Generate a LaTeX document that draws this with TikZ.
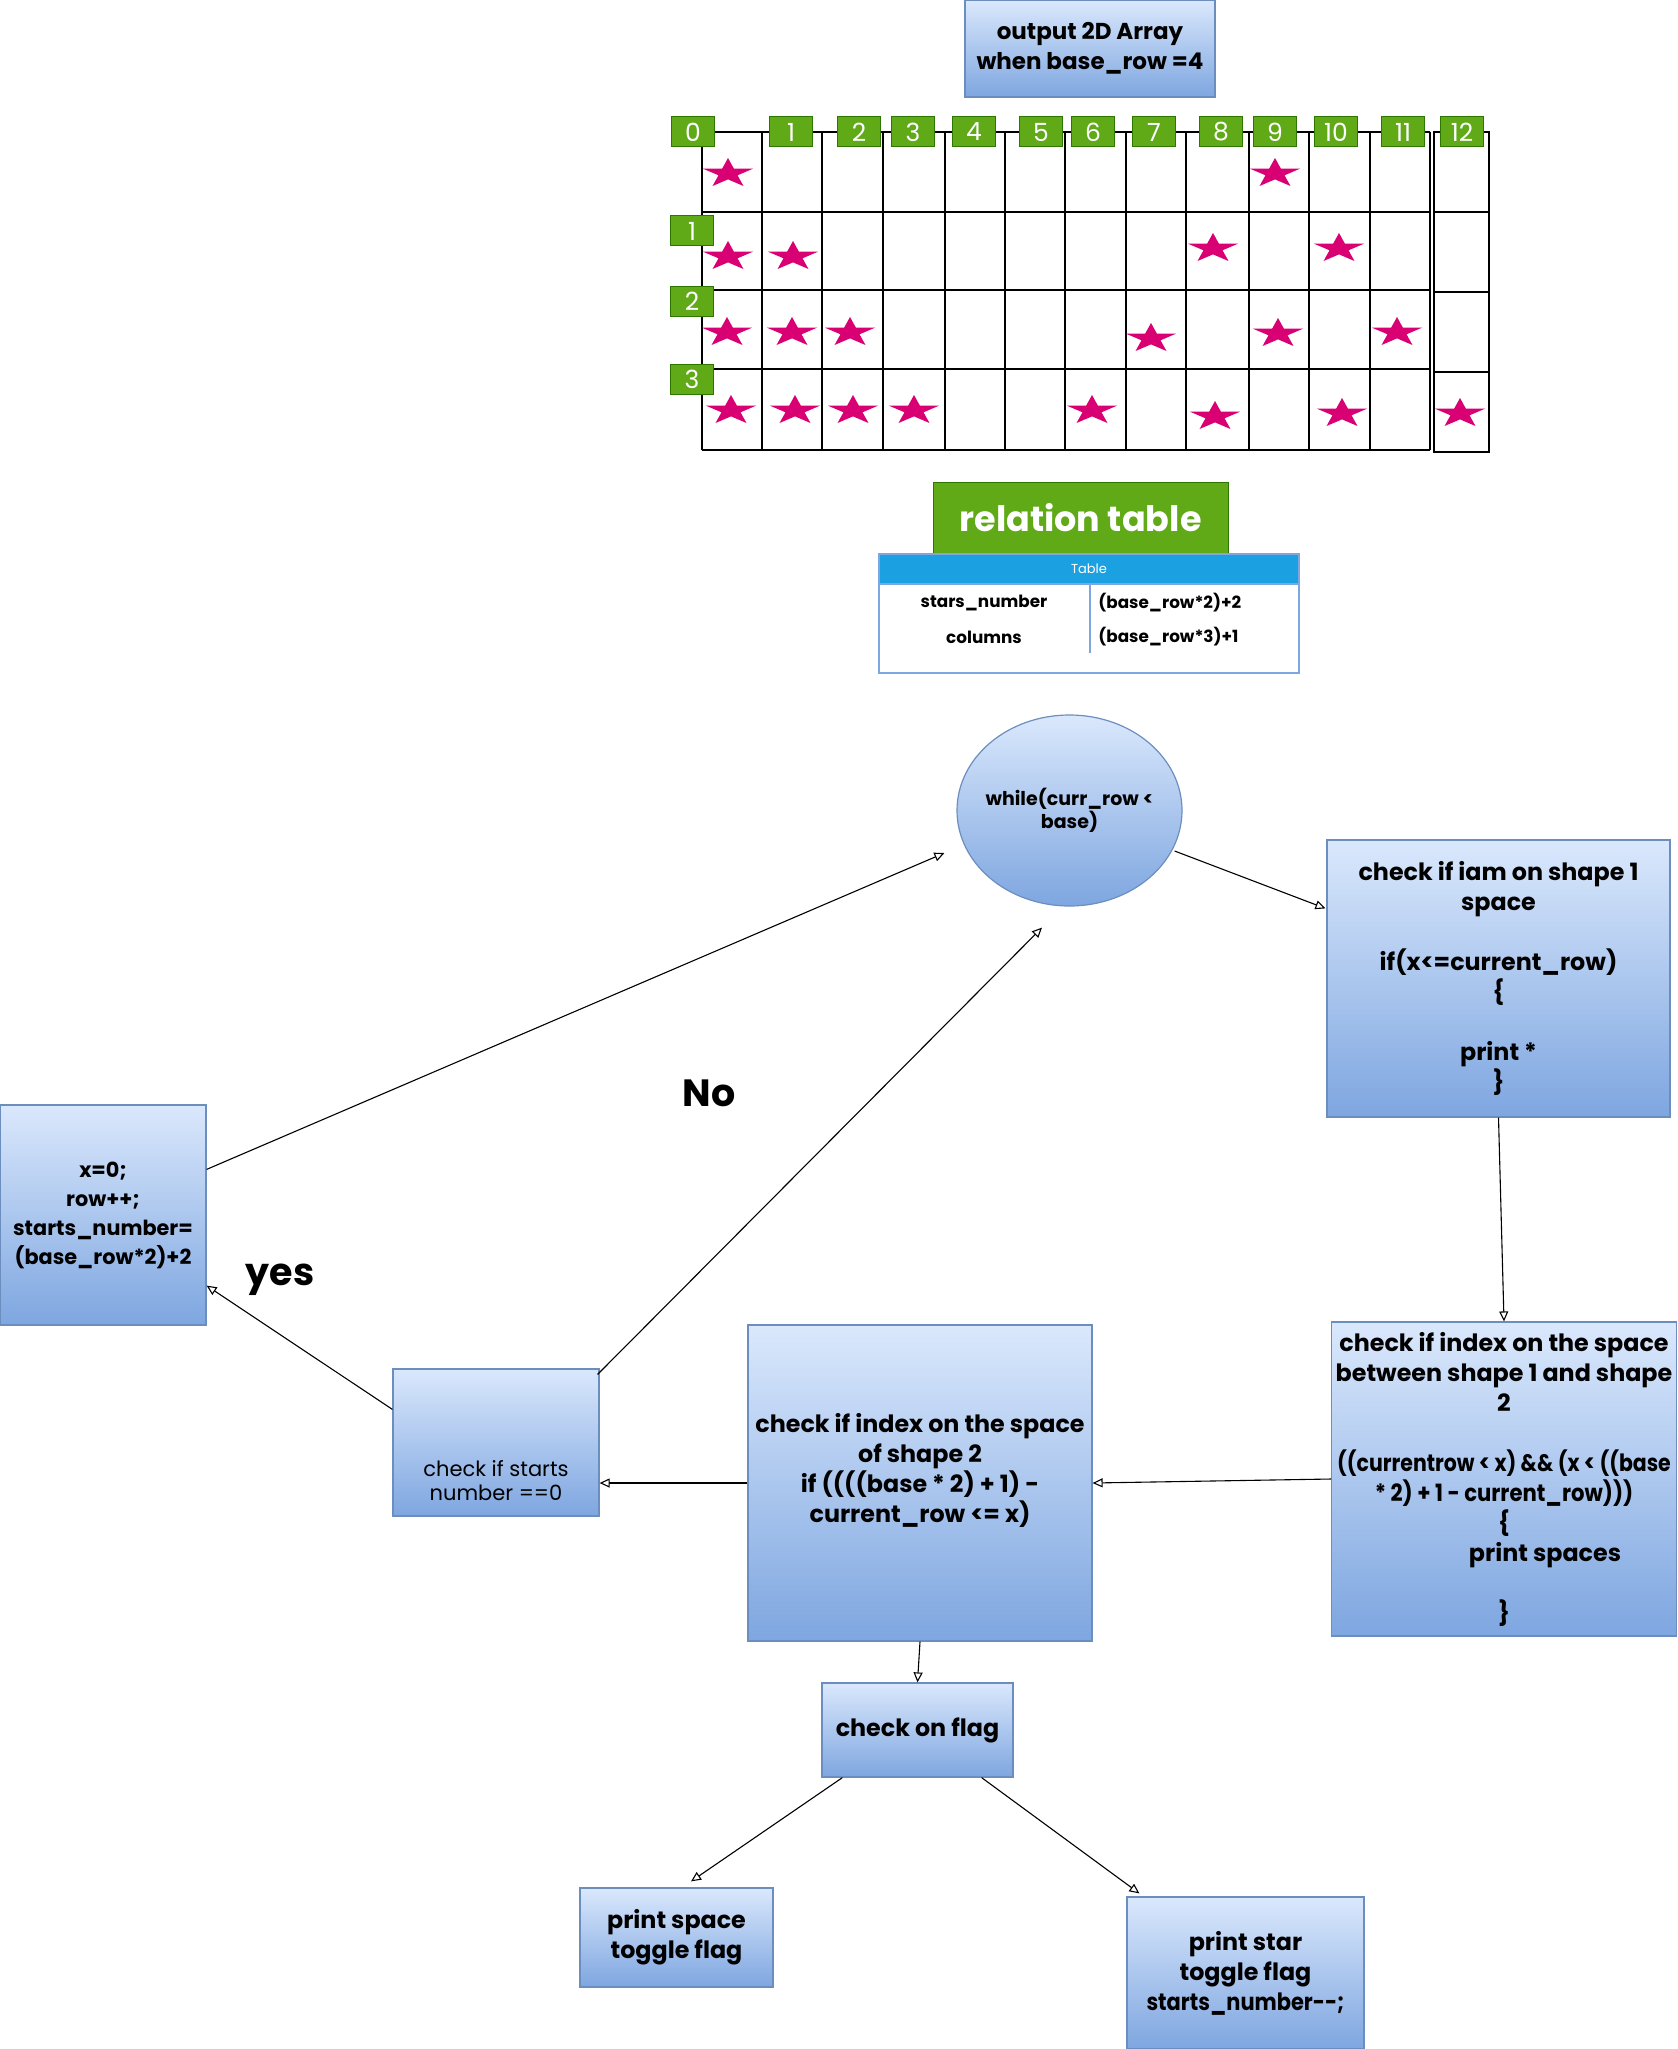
\documentclass[tikz,border=0pt]{standalone}
\usepackage{fontspec}
\usepackage{graphicx}
\setmainfont{Poppins}
\usetikzlibrary{arrows.meta,shapes.geometric,calc}
\definecolor{bxtop}{HTML}{DAE8FC}
\definecolor{bxbot}{HTML}{7EA6E0}
\definecolor{bxline}{HTML}{6C8EBF}
\definecolor{grn}{HTML}{60A917}
\definecolor{grnline}{HTML}{2D7600}
\definecolor{magst}{HTML}{D80073}
\definecolor{tblhead}{HTML}{1BA1E2}
\definecolor{tblline}{HTML}{7EA6E0}
\tikzset{
  bluebox/.style={draw=bxline, line width=0.6pt, top color=bxtop, bottom color=bxbot, inner sep=2pt, align=center, text=black},
  greenbox/.style={draw=grnline, fill=grn, line width=0.5pt, text=white, inner sep=0pt},
  gridl/.style={draw=black, line width=0.75pt},
  flow/.style={draw=black, line width=0.55pt, -{Triangle[open,length=5pt,width=4.5pt]}},
  ftitle/.style={font=\fontsize{11.5}{15}\selectfont\bfseries},
  fhdr/.style={font=\fontsize{12.5}{14}\selectfont},
  frel/.style={font=\fontsize{17.5}{20}\selectfont\bfseries},
  fthead/.style={font=\fontsize{6.5}{8}\selectfont},
  fcell/.style={font=\fontsize{8.4}{10}\selectfont\bfseries},
  fell/.style={font=\fontsize{9.5}{11.5}\selectfont\bfseries},
  fbox/.style={font=\fontsize{11.9}{15}\selectfont\bfseries},
  fE/.style={font=\fontsize{10.4}{14.5}\selectfont\bfseries},
  fD/.style={font=\fontsize{10.5}{12}\selectfont},
  fbig/.style={font=\fontsize{19}{22}\selectfont\bfseries},
  magstar/.pic={\fill[magst] (0,-14) -- (5.9,-3.3) -- (25,-3.3) -- (9.54,3.3) -- (15.46,14) -- (0,7.39) -- (-15.46,14) -- (-9.54,3.3) -- (-25,-3.3) -- (-5.9,-3.3) -- cycle;}
}
\begin{document}
\begin{tikzpicture}[x=0.5pt,y=-0.5pt]
\useasboundingbox (0,0) rectangle (1677,2049);

% ---------- title ----------
\node[bluebox, ftitle, minimum width=125pt, minimum height=48.5pt] (title) at (1090,48.5) {output 2D Array\\when base\_row =4};

% ---------- grid ----------
\foreach \x in {702,762,822,883,945,1005,1065,1126,1186,1249,1309,1370,1430}
  \draw[gridl] (\x,132) -- (\x,450);
\foreach \y in {132,212,290,369,450}
  \draw[gridl] (702,\y) -- (1430,\y);
\draw[gridl] (1434,132) rectangle (1489,452);
\foreach \y in {212,292,372}
  \draw[gridl] (1434,\y) -- (1489,\y);

\foreach \i/\x in {0/693,1/791,2/859,3/913,4/974,5/1041,6/1093,7/1154,8/1221,9/1275,10/1336,11/1403,12/1462}
  \node[greenbox, fhdr, minimum width=21.5pt, minimum height=15pt] (h\i) at (\x,132) {\i};
\foreach \i/\y in {1/231,2/301,3/379}
  \node[greenbox, fhdr, minimum width=21.5pt, minimum height=15pt] (r\i) at (692,\y) {\i};

\foreach \sx/\sy in {728/172,1275/172,
                     728/255,793/255,1213/247,1339/247,
                     727/331,792/331,850/331,1151/337,1278/332,1397/331,
                     731/409,795/409,853/409,914/409,1092/409,1215/415,1342/412,1460/412}
  \pic at (\sx,\sy) {magstar};

% ---------- relation table ----------
\node[greenbox, frel, minimum width=147.5pt, minimum height=36pt] (rel) at (1080.5,518) {relation table};
\node[draw=tblline, line width=0.8pt, fill=white, minimum width=210pt, minimum height=59.5pt, inner sep=0pt] (tbl) at (1089,613.5) {};
\node[draw=tblline, fill=tblhead, line width=0.8pt, minimum width=210pt, minimum height=15pt, inner sep=0pt, text=white, fthead] (thead) at (1089,569) {Table};
\draw[tblline, line width=0.8pt] (thead.south -| 1090,0) -- (1090,653);
\node[fcell] (c11) at (984,603) {stars\_number};
\node[fcell] (c21) at (984,637) {columns};
\node[fcell, anchor=west, inner sep=0pt] (c12) at (1098,603) {(base\_row*2)+2};
\node[fcell, anchor=west, inner sep=0pt] (c22) at (1098,637) {(base\_row*3)+1};

% ---------- flowchart ----------
\node[ellipse, bluebox, fell, inner xsep=-3pt, minimum width=112.5pt, minimum height=95.5pt] (W) at (1069.5,810.5) {while(curr\_row <\\base)};

\node[bluebox, fbox, minimum width=171.5pt, minimum height=138.5pt] (A) at (1498.5,978.5)
  {check if iam on shape 1\\space\\\mbox{}\\if(x<=current\_row)\\\{\\\mbox{}\\print *\\\}};

\node[bluebox, fbox, minimum width=172pt, minimum height=157pt] (B) at (1504,1479)
  {check if index on the space\\between shape 1 and shape\\2\\\mbox{}\\\scalebox{0.86}[1]{((currentrow < x) \&\& (x < ((base}\\\scalebox{0.89}[1]{* 2) + 1 - current\_row)))}\\\{\\\hspace*{41pt}print spaces\\\mbox{}\\\}};

\node[bluebox, fbox, minimum width=172pt, minimum height=158pt] (C) at (920,1483)
  {check if index on the space\\of shape 2\\if ((((base * 2) + 1) -\\current\_row <= x)\\\mbox{}};

\node[bluebox, fD, minimum width=103pt, minimum height=73.5pt] (D) at (496,1442.5)
  {\mbox{}\\\mbox{}\\\mbox{}\\[10pt]check if starts\\number ==0};

\node[bluebox, fE, minimum width=103pt, minimum height=110pt] (E) at (103,1215)
  {x=0;\\row++;\\starts\_number=\\(base\_row*2)+2};

\node[bluebox, fbox, minimum width=95.5pt, minimum height=47pt] (F) at (917.5,1730) {check on flag};
\node[bluebox, fbox, minimum width=96.5pt, minimum height=49.5pt] (G) at (676.5,1937.5) {print space\\toggle flag};
\node[bluebox, fbox, minimum width=118.5pt, minimum height=76pt] (H) at (1245.5,1973) {print star\\toggle flag\\\scalebox{0.88}[1]{starts\_number{-}{-};}};

\node[fbig] (no) at (709,1093) {No};
\node[fbig] (yes) at (280,1280) {yes};

% ---------- connectors ----------
\draw[flow] ([yshift=-32.5pt]E.north east) -- ([xshift=-6pt,yshift=-21.25pt]W.west);
\draw[flow] ([xshift=-1pt,yshift=-3pt]D.north east) -- ([xshift=-13.75pt,yshift=-10.5pt]W.south);
\draw[flow] ([xshift=-4pt,yshift=-20.25pt]W.east) -- ([xshift=-0.5pt,yshift=-34.5pt]A.north west);
\draw[flow] (A.south) -- (B.north);
\draw[flow] (B.west) -- (C.east);
\draw[flow] (C.west) -- (D.east |- C.west);
\draw[flow] ([yshift=-20.5pt]D.north west) -- ([yshift=20pt]E.south east);
\draw[flow] (C.south) -- (F.north);
\draw[flow] ([xshift=10.5pt]F.south west) -- ([xshift=7.25pt,yshift=3pt]G.north);
\draw[flow] ([xshift=-16pt]F.south east) -- ([xshift=6.5pt,yshift=1.5pt]H.north west);
\end{tikzpicture}
\end{document}
